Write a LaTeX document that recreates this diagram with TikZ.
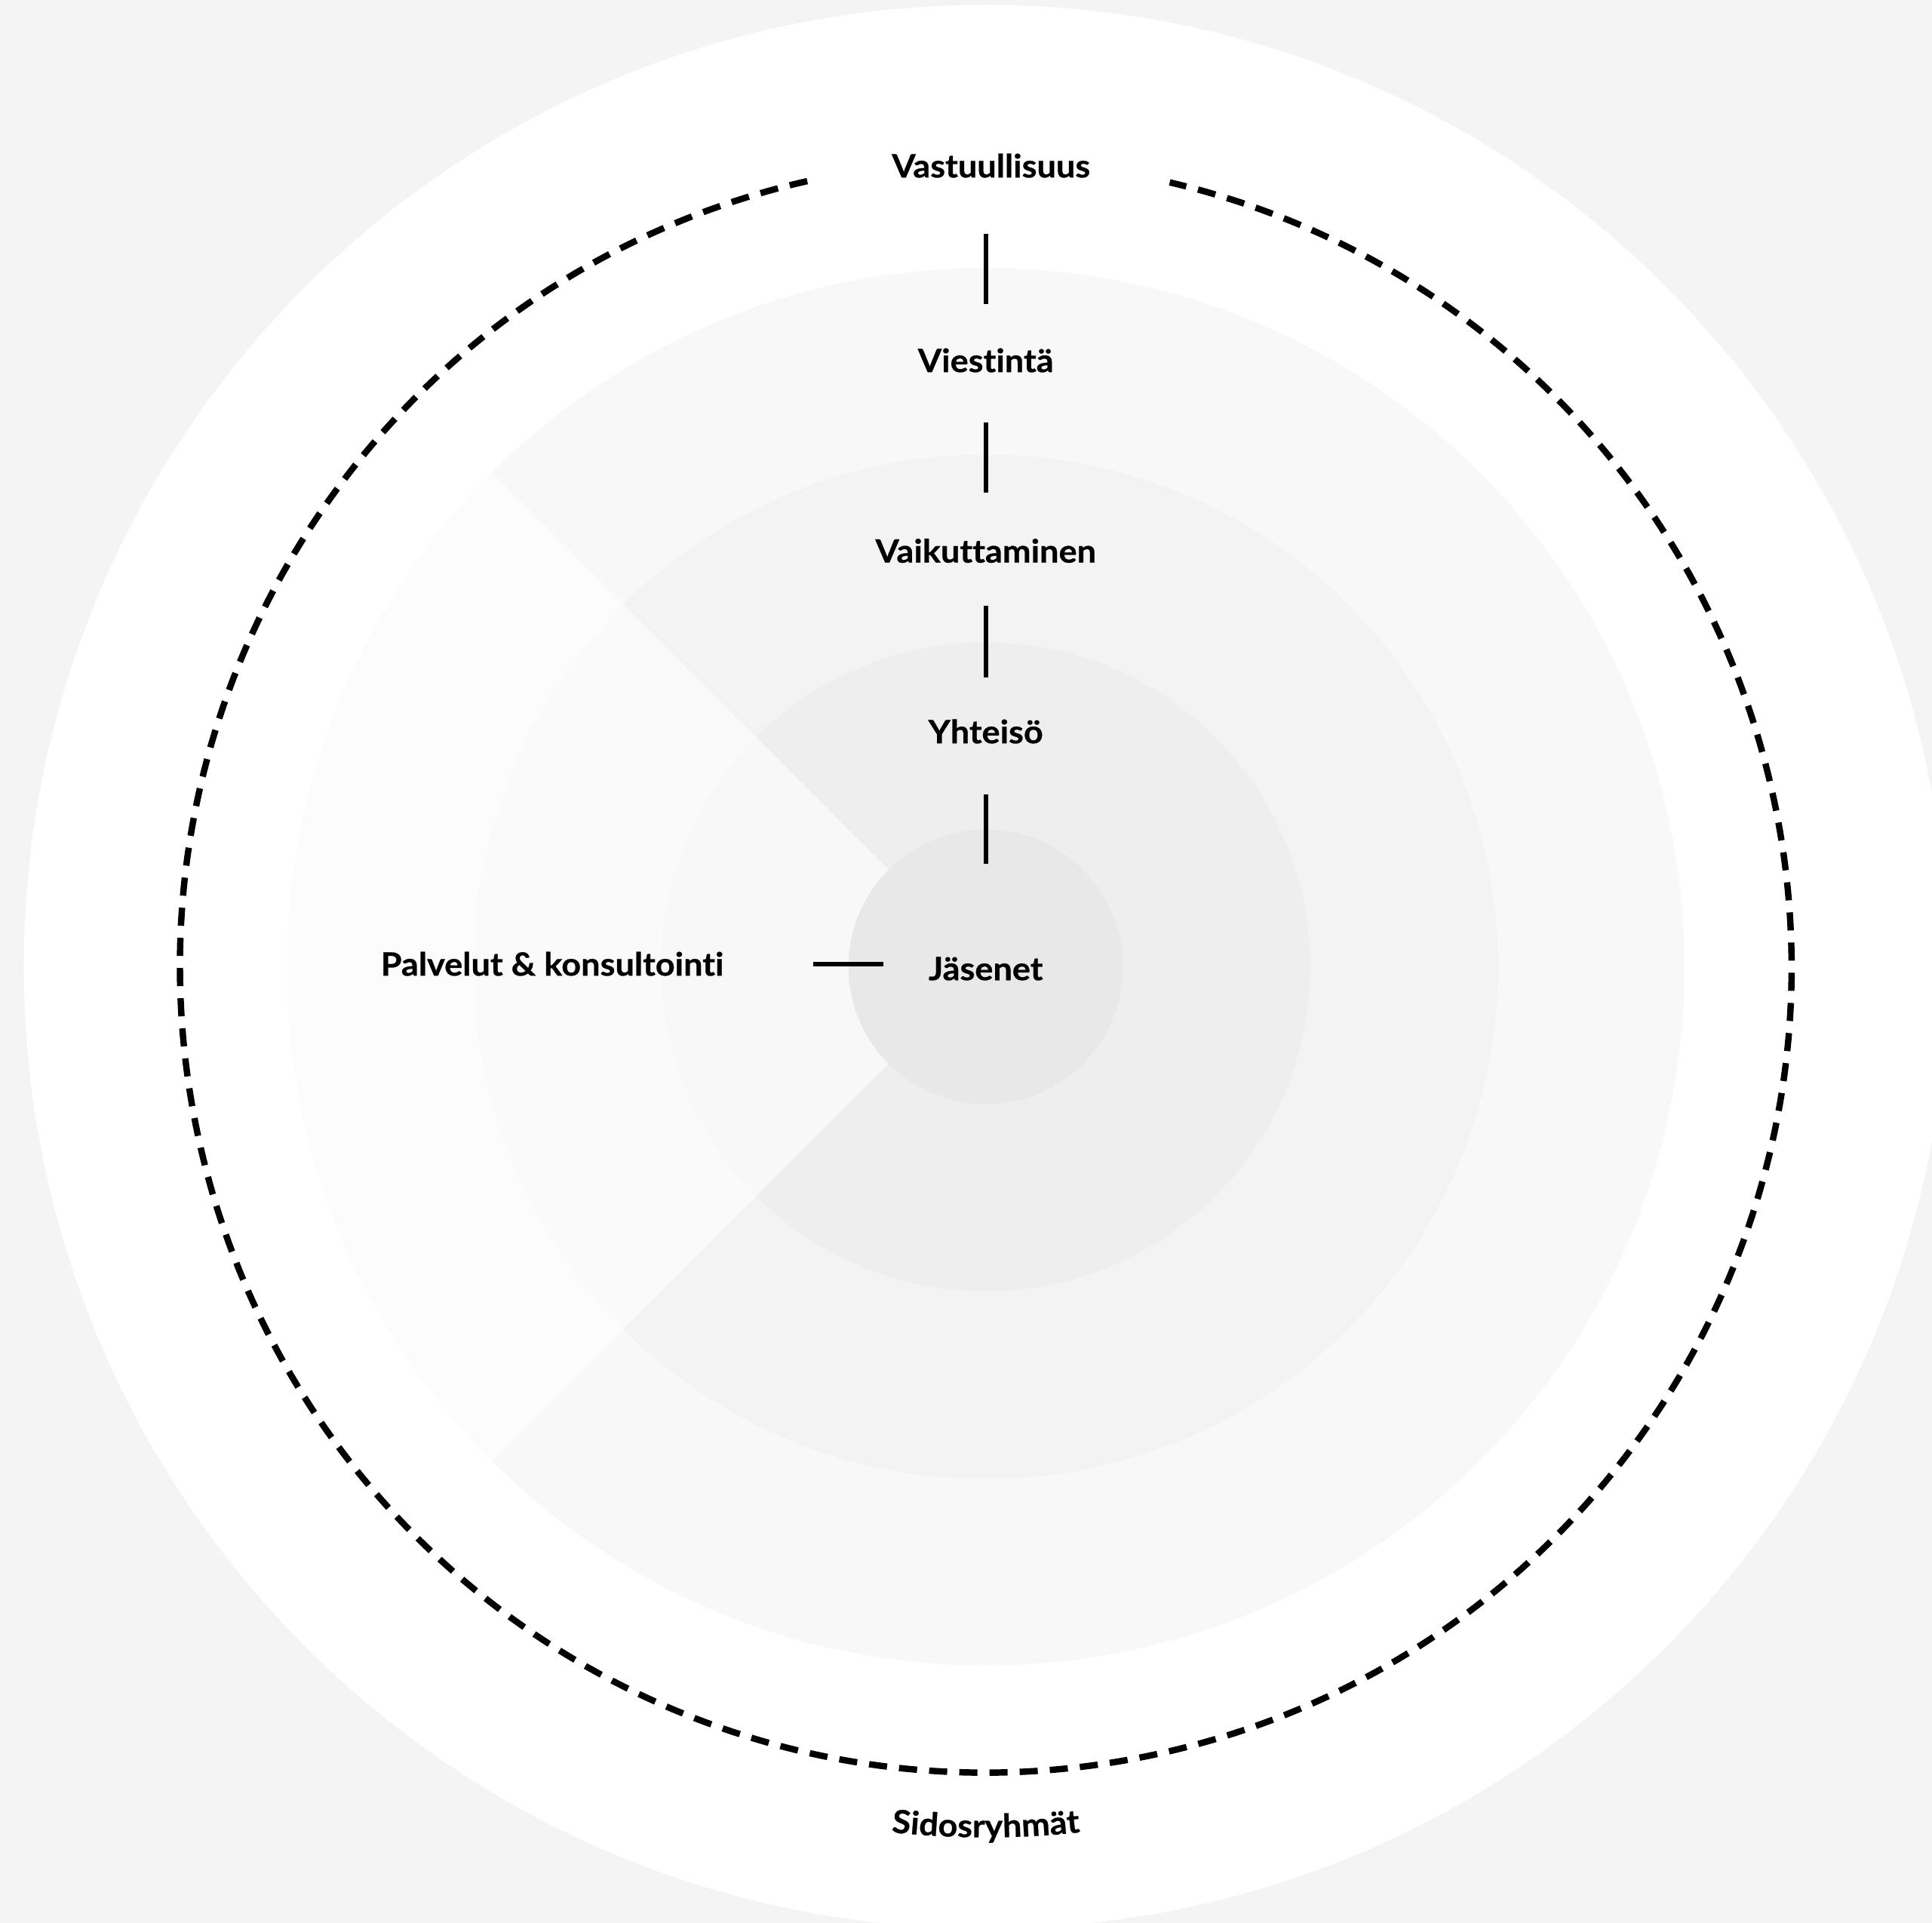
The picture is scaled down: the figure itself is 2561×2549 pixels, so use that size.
\documentclass[tikz,border=0pt]{standalone}
\usepackage{fontspec}
\setmainfont{Lato}[Ligatures=NoCommon, BoldFeatures={FakeStretch=1.06, FakeBold=0.6}]
\usetikzlibrary{decorations.text}
\definecolor{bgc}{HTML}{F4F4F4}
\definecolor{ringA}{HTML}{F8F8F8}
\definecolor{ringB}{HTML}{F3F3F3}
\definecolor{ringC}{HTML}{EEEEEE}
\definecolor{ringD}{HTML}{E8E8E8}
\begin{document}
\begin{tikzpicture}[x=0.01cm,y=0.01cm,
  lbl/.style={font=\fontsize{12.1}{14}\selectfont\bfseries, inner sep=0pt,
              text height=3.05mm, text depth=0pt, anchor=center},
  conn/.style={line width=1.7pt, black},
  dashring/.style={line width=2.4pt, black, dash pattern=on 2.4mm off 1.6mm}]
  % background and bounding box
  \useasboundingbox (-1306.7,1281.5) rectangle (1254.3,-1267.5);
  \fill[bgc] (-1306.7,1281.5) rectangle (1254.3,-1267.5);
  % rings
  \fill[white] (0,0) circle (1275);
  \fill[ringA] (0,0) circle (926);
  \fill[ringB] (0,0) circle (679);
  \fill[ringC] (0,0) circle (430);
  % wedge
  \fill[white, fill opacity=0.6] (0,0) -- (135:926) arc[start angle=135, end angle=225, radius=926] -- cycle;
  \fill[ringD] (0,0) circle (182);
  % dashed ring
  \draw[dashring] (102.8:1068) arc[start angle=102.8, end angle=436.8, radius=1068];
  % labels
  \node[lbl] (vast) at (7,1061.5) {Vastuullisuus};
  \node[lbl] (vies) at (0,803.5) {Viestintä};
  \node[lbl] (vaik) at (0,551) {Vaikuttaminen};
  \node[lbl] (yht)  at (0,311.5) {Yhteisö};
  \node[lbl] (jas)  at (0,-2.5) {Jäsenet};
  \node[lbl] (palv) at (-574.7,3.5) {Palvelut \& konsultointi};
  % connectors
  \draw[conn, shorten <=9mm, shorten >=7.5mm] (vast.center -| vies.center) -- (vies.center);
  \draw[conn, shorten <=8.2mm, shorten >=7.75mm] (vies.center) -- (vaik.center);
  \draw[conn, shorten <=7.25mm, shorten >=7.2mm] (vaik.center) -- (yht.center);
  \draw[conn, shorten <=8.3mm, shorten >=13.9mm] (yht.center) -- (jas.center);
  \draw[conn, shorten <=34.6mm, shorten >=13.6mm] (palv.center) -- (palv.center -| jas.center);
  % curved label
  \path[decorate, decoration={text along path, text align=center,
        text={|\fontsize{12.1}{14}\selectfont\bfseries|Sidosryhmät}}]
        (250:1154) arc[start angle=250, end angle=290, radius=1154];
\end{tikzpicture}
\end{document}
